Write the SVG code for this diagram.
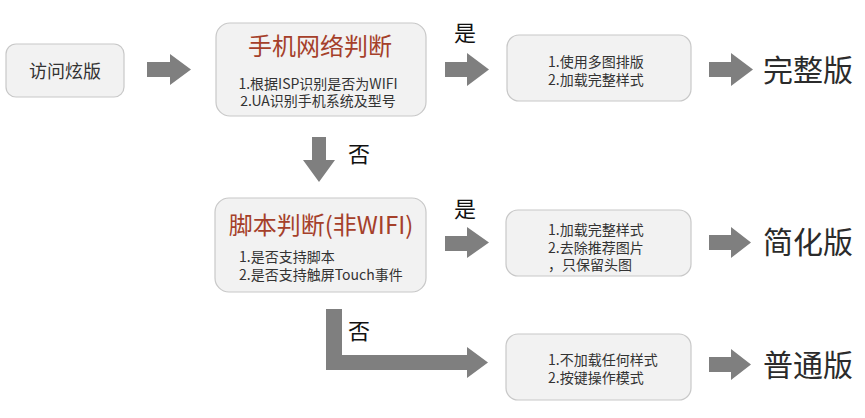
<svg xmlns="http://www.w3.org/2000/svg" width="865" height="418" viewBox="0 0 865 418">
<style>
.box{fill:#f2f2f2;stroke:#c8c8c8;stroke-width:1.2}
.arr{fill:#7f7f7f}
text{font-family:"Microsoft YaHei","Noto Sans CJK SC","Noto Sans",sans-serif;fill:#333}
.t1{font-size:18px}
.title{font-size:24px;fill:#a5402a}
.sm{font-size:14px}
.lbl{font-size:22px;fill:#111}
.big{font-size:30px;fill:#2b2b2b}
</style>
<rect width="865" height="418" fill="#fff"/>
<g id="connectors">
<polygon class="arr" points="147,62 170,62 170,54 191,69.5 170,85 170,77 147,77"/>
<polygon class="arr" points="445,62 467,62 467,53 489,69.5 467,86 467,77 445,77"/>
<polygon class="arr" points="709,62 731,62 731,53 753,69.5 731,86 731,77 709,77"/>
<polygon class="arr" points="312,137 326,137 326,160 335,160 319,182 303,160 312,160"/>
<polygon class="arr" points="445,236 467,236 467,227 489,242.5 467,258 467,251 445,251"/>
<polygon class="arr" points="709,235 731,235 731,227 751,242.5 731,258 731,250 709,250"/>
<polygon class="arr" points="326,309 342,309 342,355 467,355 467,347 488,362.5 467,378 467,370 326,370"/>
<polygon class="arr" points="709,357 731,357 731,349 751,364.5 731,380 731,372 709,372"/>
<text class="lbl" x="454" y="41">是</text>
<text class="lbl" x="348" y="162">否</text>
<text class="lbl" x="454" y="217">是</text>
<text class="lbl" x="348" y="339">否</text>
</g>
<g id="start">
<rect class="box" x="6" y="44" width="118" height="53" rx="10"/>
<text class="t1" x="65" y="78" text-anchor="middle">访问炫版</text>
</g>
<g id="network">
<rect class="box" x="216" y="23" width="210" height="93" rx="14"/>
<text class="title" x="320" y="55" text-anchor="middle">手机网络判断</text>
<text class="sm" x="318" y="89" text-anchor="middle">1.根据ISP识别是否为WIFI</text>
<text class="sm" x="318" y="106" text-anchor="middle">2.UA识别手机系统及型号</text>
</g>
<g id="full-box">
<rect class="box" x="507" y="35" width="184" height="66" rx="12"/>
<text class="sm" x="548" y="67">1.使用多图排版</text>
<text class="sm" x="548" y="85">2.加载完整样式</text>
</g>
<g id="script">
<rect class="box" x="215" y="198" width="211" height="94" rx="14"/>
<text class="title" x="321" y="234" text-anchor="middle">脚本判断(非WIFI)</text>
<text class="sm" x="239" y="262">1.是否支持脚本</text>
<text class="sm" x="239" y="280">2.是否支持触屏Touch事件</text>
</g>
<g id="simple-box">
<rect class="box" x="506" y="210" width="185" height="66" rx="12"/>
<text class="sm" x="548" y="235">1.加载完整样式</text>
<text class="sm" x="548" y="253">2.去除推荐图片</text>
<text class="sm" x="548" y="270">，只保留头图</text>
</g>
<g id="normal-box">
<rect class="box" x="506" y="334" width="185" height="66" rx="12"/>
<text class="sm" x="548" y="365">1.不加载任何样式</text>
<text class="sm" x="548" y="383">2.按键操作模式</text>
</g>
<g id="full"><text class="big" x="763" y="81">完整版</text></g>
<g id="simple"><text class="big" x="763" y="253">简化版</text></g>
<g id="normal"><text class="big" x="763" y="376">普通版</text></g>
</svg>
